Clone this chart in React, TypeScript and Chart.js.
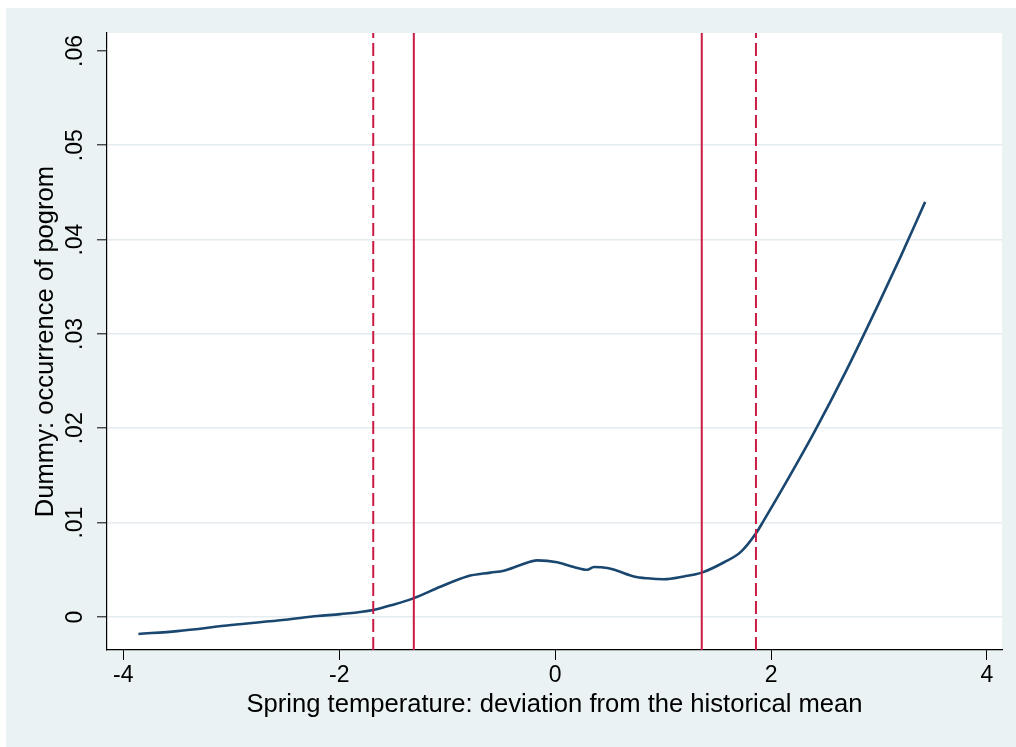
import React, { useEffect, useRef } from 'react';
import { Chart, registerables } from 'chart.js';

Chart.register(...registerables);

// Fitted curve: spring temperature deviation (x) vs predicted pogrom probability (y)
const curveX = [
  -3.86, -3.5, -3.0, -2.5, -2.2, -1.99, -1.685, -1.5, -1.309, -1.063,
  -0.816, -0.599, -0.476, -0.321, -0.166, 0.019, 0.173, 0.297, 0.359, 0.483,
  0.576, 0.73, 0.854, 1.008, 1.194, 1.358, 1.565, 1.72, 1.862, 1.936,
  2.1, 2.4, 2.7, 3.0, 3.2, 3.427,
];
const curveY = [
  -0.0018, -0.0015, -0.00085, -0.0003, 0.0001, 0.0003, 0.00074, 0.0013, 0.002, 0.0032,
  0.0043, 0.0047, 0.0049, 0.0055, 0.006, 0.0058, 0.0053, 0.005, 0.0053, 0.0052,
  0.0049, 0.0043, 0.0041, 0.004, 0.0043, 0.0047, 0.0058, 0.0069, 0.0089, 0.0103,
  0.0135, 0.0196, 0.0262, 0.0333, 0.0382, 0.044,
];

// Reference vertical lines
const solidLinesX = [-1.309, 1.358];
const dashedLinesX = [-1.685, 1.86];

// Axes
const xRange = [-4.151, 4.139];
const yRange = [-0.0035, 0.0619];
const xTickValues = [-4, -2, 0, 2, 4];
const xTickLabels = ['-4', '-2', '0', '2', '4'];
const yTickValues = [0, 0.01, 0.02, 0.03, 0.04, 0.05, 0.06];
const yTickLabels = ['0', '.01', '.02', '.03', '.04', '.05', '.06'];

const xTitle = 'Spring temperature: deviation from the historical mean';
const yTitle = 'Dummy: occurrence of pogrom';

const FONT = '"Liberation Sans", Arial, Helvetica, sans-serif';
const BG = '#EAF2F3';
const GRID = '#E4ECEF';
const NAVY = '#1A476F';
const RED = '#CB1A44';

function labelFor(values: number[], labels: string[], v: number) {
  const i = values.findIndex((t) => Math.abs(t - v) < 1e-9);
  return i >= 0 ? labels[i] : '';
}

const plotBg = {
  id: 'plotBg',
  beforeDraw(chart: any) {
    const { ctx, chartArea } = chart;
    ctx.save();
    ctx.fillStyle = '#ffffff';
    ctx.fillRect(chartArea.left, chartArea.top, chartArea.right - chartArea.left, chartArea.bottom - chartArea.top);
    ctx.restore();
  },
};

export default function App() {
  const ref = useRef<HTMLCanvasElement | null>(null);

  useEffect(() => {
    if (!ref.current) return;
    const vline = (x: number, dashed: boolean) => ({
      type: 'line' as const,
      data: [
        { x, y: yRange[0] },
        { x, y: yRange[1] },
      ],
      borderColor: RED,
      borderWidth: 2,
      borderDash: dashed ? [13, 5] : [],
      pointRadius: 0,
      fill: false,
    });

    const chart = new Chart(ref.current, {
      type: 'line',
      data: {
        datasets: [
          ...solidLinesX.map((x) => vline(x, false)),
          ...dashedLinesX.map((x) => vline(x, true)),
          {
            type: 'line',
            data: curveX.map((x, i) => ({ x, y: curveY[i] })),
            borderColor: NAVY,
            borderWidth: 2.6,
            pointRadius: 0,
            cubicInterpolationMode: 'monotone',
            fill: false,
          },
        ],
      },
      options: {
        animation: false,
        responsive: true,
        maintainAspectRatio: false,
        layout: { padding: { left: 0, top: 25, right: 14, bottom: 0 } },
        plugins: { legend: { display: false }, tooltip: { enabled: false } },
        scales: {
          x: {
            type: 'linear',
            min: xRange[0],
            max: xRange[1],
            afterBuildTicks: (s: any) => {
              s.ticks = xTickValues.map((v) => ({ value: v }));
            },
            afterFit: (s: any) => {
              s.height = 97;
            },
            ticks: {
              maxRotation: 0,
              minRotation: 0,
              padding: 2,
              color: '#000',
              font: { family: FONT, size: 23 },
              callback: (v: any) => labelFor(xTickValues, xTickLabels, Number(v)),
            },
            grid: { drawOnChartArea: false, drawTicks: true, tickLength: 10, tickColor: '#000', tickWidth: 1 },
            border: { color: '#000', width: 1.2 },
            title: {
              display: true,
              text: xTitle,
              color: '#000',
              font: { family: FONT, size: 25.6 },
              padding: { top: 0, bottom: 27 },
            },
          },
          y: {
            type: 'linear',
            min: yRange[0],
            max: yRange[1],
            afterBuildTicks: (s: any) => {
              s.ticks = yTickValues.map((v) => ({ value: v }));
            },
            afterFit: (s: any) => {
              s.width = 101;
            },
            ticks: {
              minRotation: 90,
              maxRotation: 90,
              crossAlign: 'center',
              padding: 5,
              color: '#000',
              font: { family: FONT, size: 23 },
              callback: (v: any) => labelFor(yTickValues, yTickLabels, Number(v)),
            },
            grid: {
              color: (ctx: any) => (ctx.tick && ctx.tick.value > 0.055 ? 'rgba(0,0,0,0)' : GRID),
              lineWidth: 1.6,
              drawTicks: true,
              tickLength: 10,
              tickColor: '#000',
              tickWidth: 1,
            },
            border: { color: '#000', width: 1.2 },
            title: {
              display: true,
              text: yTitle,
              color: '#000',
              font: { family: FONT, size: 25.6 },
              padding: { top: 25, bottom: 0 },
            },
          },
        },
      },
      plugins: [plotBg],
    } as any);

    return () => chart.destroy();
  }, []);

  return (
    <div style={{ position: 'absolute', left: 0, top: 0, width: 1016, height: 747, background: '#fff' }}>
      <div style={{ position: 'absolute', left: 6, top: 8, width: 1010, height: 739, background: BG }}>
        <canvas ref={ref} />
      </div>
    </div>
  );
}
